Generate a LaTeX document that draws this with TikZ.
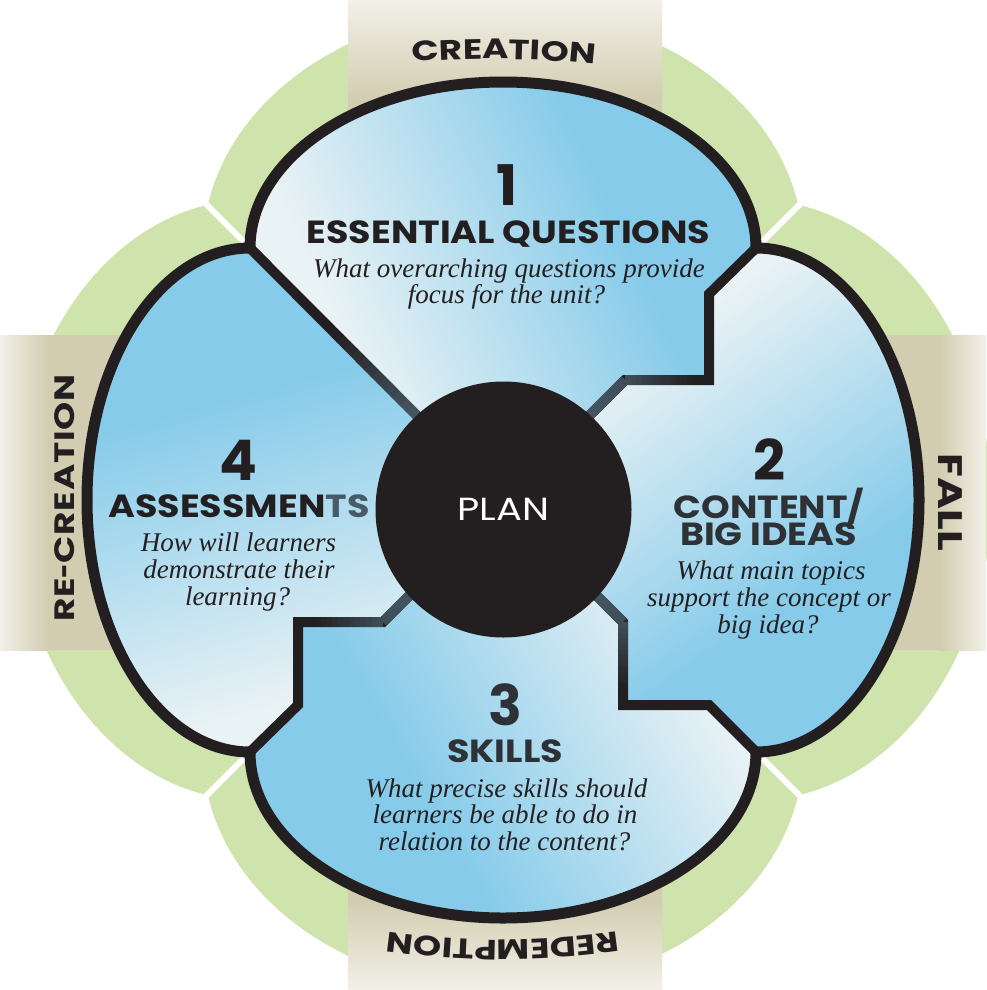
\documentclass[tikz,border=0pt]{standalone}
\usepackage{fontspec}
\newfontfamily\headfont{Poppins}
\newfontfamily\widefont{Poppins}[FakeStretch=1.14]
\newfontfamily\bandfont{Poppins}[FakeStretch=1.28]
\newfontfamily\planfont{Poppins}[FakeStretch=1.2]
\newfontfamily\quotefont{Liberation Serif}
\usetikzlibrary{decorations.text,calc}

\definecolor{ink}{HTML}{231F20}
\definecolor{slate}{HTML}{475A68}
\definecolor{leaf}{HTML}{CFE3AC}
\definecolor{bandtan}{RGB}{210,205,176}
\definecolor{bandmid}{RGB}{214,216,180}
\definecolor{bandedge}{RGB}{242,240,232}
\definecolor{sky}{HTML}{86CBEA}
\definecolor{mist}{HTML}{E9F2F5}

\pgfdeclarehorizontalshading{toblue}{100bp}{color(0bp)=(mist); color(25bp)=(mist); color(33bp)=(mist); color(64bp)=(sky); color(75bp)=(sky); color(100bp)=(sky)}
\pgfdeclarehorizontalshading{tolight}{100bp}{color(0bp)=(sky); color(25bp)=(sky); color(38bp)=(sky); color(70bp)=(mist); color(75bp)=(mist); color(100bp)=(mist)}

\newcommand\gradseg[4]{%
  \foreach \k in {0,...,11}{%
    \pgfmathsetmacro\ta{\k/12}%
    \pgfmathsetmacro\tb{min(1,(\k+1.15)/12)}%
    \pgfmathtruncatemacro\pc{#3+(#4-#3)*(\k+0.5)/12}%
    \draw[line width=10pt, color=slate!\pc!ink] ($(#1)!\ta!(#2)$) -- ($(#1)!\tb!(#2)$);
  }}

\tikzset{
  hd/.style={font=\widefont\bfseries\fontsize{32}{32}\selectfont, text=ink, inner sep=0, anchor=base},
  num/.style={font=\headfont\bfseries\fontsize{56}{56}\selectfont, text=ink, inner sep=0, anchor=base},
  qt/.style={font=\quotefont\itshape\fontsize{27}{27}\selectfont, text=ink, inner sep=0, anchor=base},
  bandlabel/.style={font=\bandfont\bfseries\fontsize{28}{28}\selectfont, text=ink, inner sep=0},
  divider/.style={line width=10pt, ink, line join=miter, line cap=butt},
  outline/.style={line width=11pt, ink, line join=miter},
}

\begin{document}
\begin{tikzpicture}[x=1pt,y=-1pt]
\useasboundingbox (0,0) rectangle (986,990);
\fill[white] (0,0) rectangle (986,990);

% key points
\coordinate (J1) at (250,248);
\coordinate (J2) at (756,248);
\coordinate (J3) at (756,752);
\coordinate (J4) at (250,752);
\coordinate (O) at (503,502);
\coordinate (U1) at (709,294);
\coordinate (U2) at (709,380);
\coordinate (U3) at (625,380);
\coordinate (R1) at (709,705);
\coordinate (R2) at (623,705);
\coordinate (R3) at (623,622);
\coordinate (L1) at (298,705);
\coordinate (L2) at (298,622);
\coordinate (L3) at (383,622);

% green petals
\fill[leaf] (503,248) ellipse [x radius=300, y radius=238];
\fill[leaf] (756,500) ellipse [x radius=235, y radius=300];
\fill[leaf] (503,752) ellipse [x radius=300, y radius=238];
\fill[leaf] (250,500) ellipse [x radius=235, y radius=300];
\draw[white, line width=6pt] (J1) -- ++(-90,-90);
\draw[white, line width=6pt] (J2) -- ++(90,-90);
\draw[white, line width=6pt] (J3) -- ++(90,90);
\draw[white, line width=6pt] (J4) -- ++(-90,90);

% tan bands
\fill[bandtan] (348,100) rectangle (662,260);
\shade[top color=bandedge, middle color=bandmid, bottom color=bandtan] (348,0) rectangle (662,100);
\fill[bandtan] (348,740) rectangle (662,900);
\shade[bottom color=bandedge, middle color=bandmid, top color=bandtan] (348,900) rectangle (662,990);
\fill[bandtan] (48,335) rectangle (260,650);
\shade[left color=bandedge, right color=bandtan] (0,335) rectangle (48,650);
\fill[bandtan] (746,335) rectangle (940,650);
\shade[right color=bandedge, left color=bandtan] (940,335) rectangle (986,650);

% blue regions
\shade[shading=toblue, shading angle=25]
  (J1) arc[start angle=180, end angle=360, x radius=253, y radius=166]
  -- (U1) -- (U2) -- (U3) -- (O) -- cycle;
\shade[shading=toblue, shading angle=-55]
  (J2) arc[start angle=270, end angle=450, x radius=163, y radius=252]
  -- (R1) -- (R2) -- (R3) -- (O) -- (U3) -- (U2) -- (U1) -- cycle;
\shade[shading=tolight, shading angle=30]
  (J3) arc[start angle=0, end angle=180, x radius=253, y radius=166]
  -- (L1) -- (L2) -- (L3) -- (O) -- (R3) -- (R2) -- (R1) -- cycle;
\shade[shading=tolight, shading angle=-75]
  (J4) arc[start angle=90, end angle=270, x radius=163, y radius=252]
  -- (O) -- (L3) -- (L2) -- (L1) -- cycle;

% dividers
\draw[divider] (J1) -- (O);
\draw[divider] (J2) -- (U1) -- (U2) -- (U3) -- (O);
\draw[divider] (J3) -- (R1) -- (R2) -- (R3) -- (O);
\draw[divider] (J4) -- (L1) -- (L2) -- (L3) -- (O);
\coordinate (E1) at ($(O)!0.34!(J1)$);
\coordinate (Q1) at ($(O)!0.67!(J1)$);
\gradseg{E1}{Q1}{95}{0}
\coordinate (E2) at ($(O)!0.7!(U3)$);
\coordinate (Q2) at ($(U3)!0.8!(U2)$);
\gradseg{E2}{U3}{95}{80}
\gradseg{U3}{Q2}{80}{0}
\coordinate (E3) at ($(O)!0.7!(R3)$);
\coordinate (Q3) at ($(R3)!0.8!(R2)$);
\gradseg{E3}{R3}{95}{80}
\gradseg{R3}{Q3}{80}{0}
\coordinate (E4) at ($(O)!0.7!(L3)$);
\coordinate (Q4) at ($(L3)!0.8!(L2)$);
\gradseg{E4}{L3}{95}{80}
\gradseg{L3}{Q4}{80}{0}

% outline
\draw[outline] (J1)
  arc[start angle=180, end angle=360, x radius=253, y radius=166]
  arc[start angle=270, end angle=450, x radius=163, y radius=252]
  arc[start angle=0, end angle=180, x radius=253, y radius=166]
  arc[start angle=90, end angle=270, x radius=163, y radius=252]
  -- cycle;

% centre
\node[circle, fill=ink, minimum size=256pt, inner sep=0, text=white,
      font=\planfont\fontsize{32}{32}\selectfont] (plan) at (503.5,509.5) {PLAN};

% band labels
\path[decorate, decoration={text along path, text align=center, text color=ink,
   text={|\bandfont\bfseries\fontsize{28}{28}\selectfont|CREATION}}]
   (295.8,78.0) arc[start angle=258.8, end angle=282.8, radius=1000];
\path[decorate, decoration={text along path, text align=center, text color=ink,
   text={|\bandfont\bfseries\fontsize{28}{28}\selectfont|REDEMPTION}}]
   (641.9,927.8) arc[start angle=80, end angle=100, radius=800];
\node[bandlabel, font=\bandfont\bfseries\fontsize{34}{34}\selectfont, rotate=-90] (fall) at (950.5,502.5) {FALL};
\node[bandlabel, rotate=90] (recreation) at (65,498) {\addfontfeature{LetterSpace=3}RE\scalebox{0.7}[1]{-}CREATION};

% region 1
\node[num] (n1) at (507,205) {1};
\node[hd] (t1) at (508.5,243) {ESSENTIAL QUESTIONS};
\node[qt] (q1a) at (509,277) {What overarching questions provide};
\node[qt] (q1b) at (506.5,303) {focus for the unit?};

% region 2
\node[num] (n2) at (769,480) {2};
\node[hd, text=ink!70!slate] (t2a) at (769,518) {CONTENT/};
\node[hd, text=ink!70!slate] (t2b) at (768.5,545) {BIG IDEAS};
\node[qt] (q2a) at (771,579) {What main topics};
\node[qt] (q2b) at (769,606) {support the concept or};
\node[qt] (q2c) at (768,633) {big idea?};

% region 3
\node[num, text=ink!70!slate] (n3) at (505,725) {3};
\node[hd, text=ink!70!slate] (t3) at (505,762) {SKILLS};
\node[qt] (q3a) at (506.5,797) {What precise skills should};
\node[qt] (q3b) at (505,823) {learners be able to do in};
\node[qt] (q3c) at (504.5,850) {relation to the content?};

% region 4
\node[num] (n4) at (238,480) {4};
\node[hd] (t4) at (239,517) {ASSESSMEN\textcolor{slate}{TS}};
\node[qt] (q4a) at (238.5,551) {How will learners};
\node[qt] (q4b) at (239,578) {demonstrate their};
\node[qt] (q4c) at (237.5,605) {learning?};
\end{tikzpicture}
\end{document}
